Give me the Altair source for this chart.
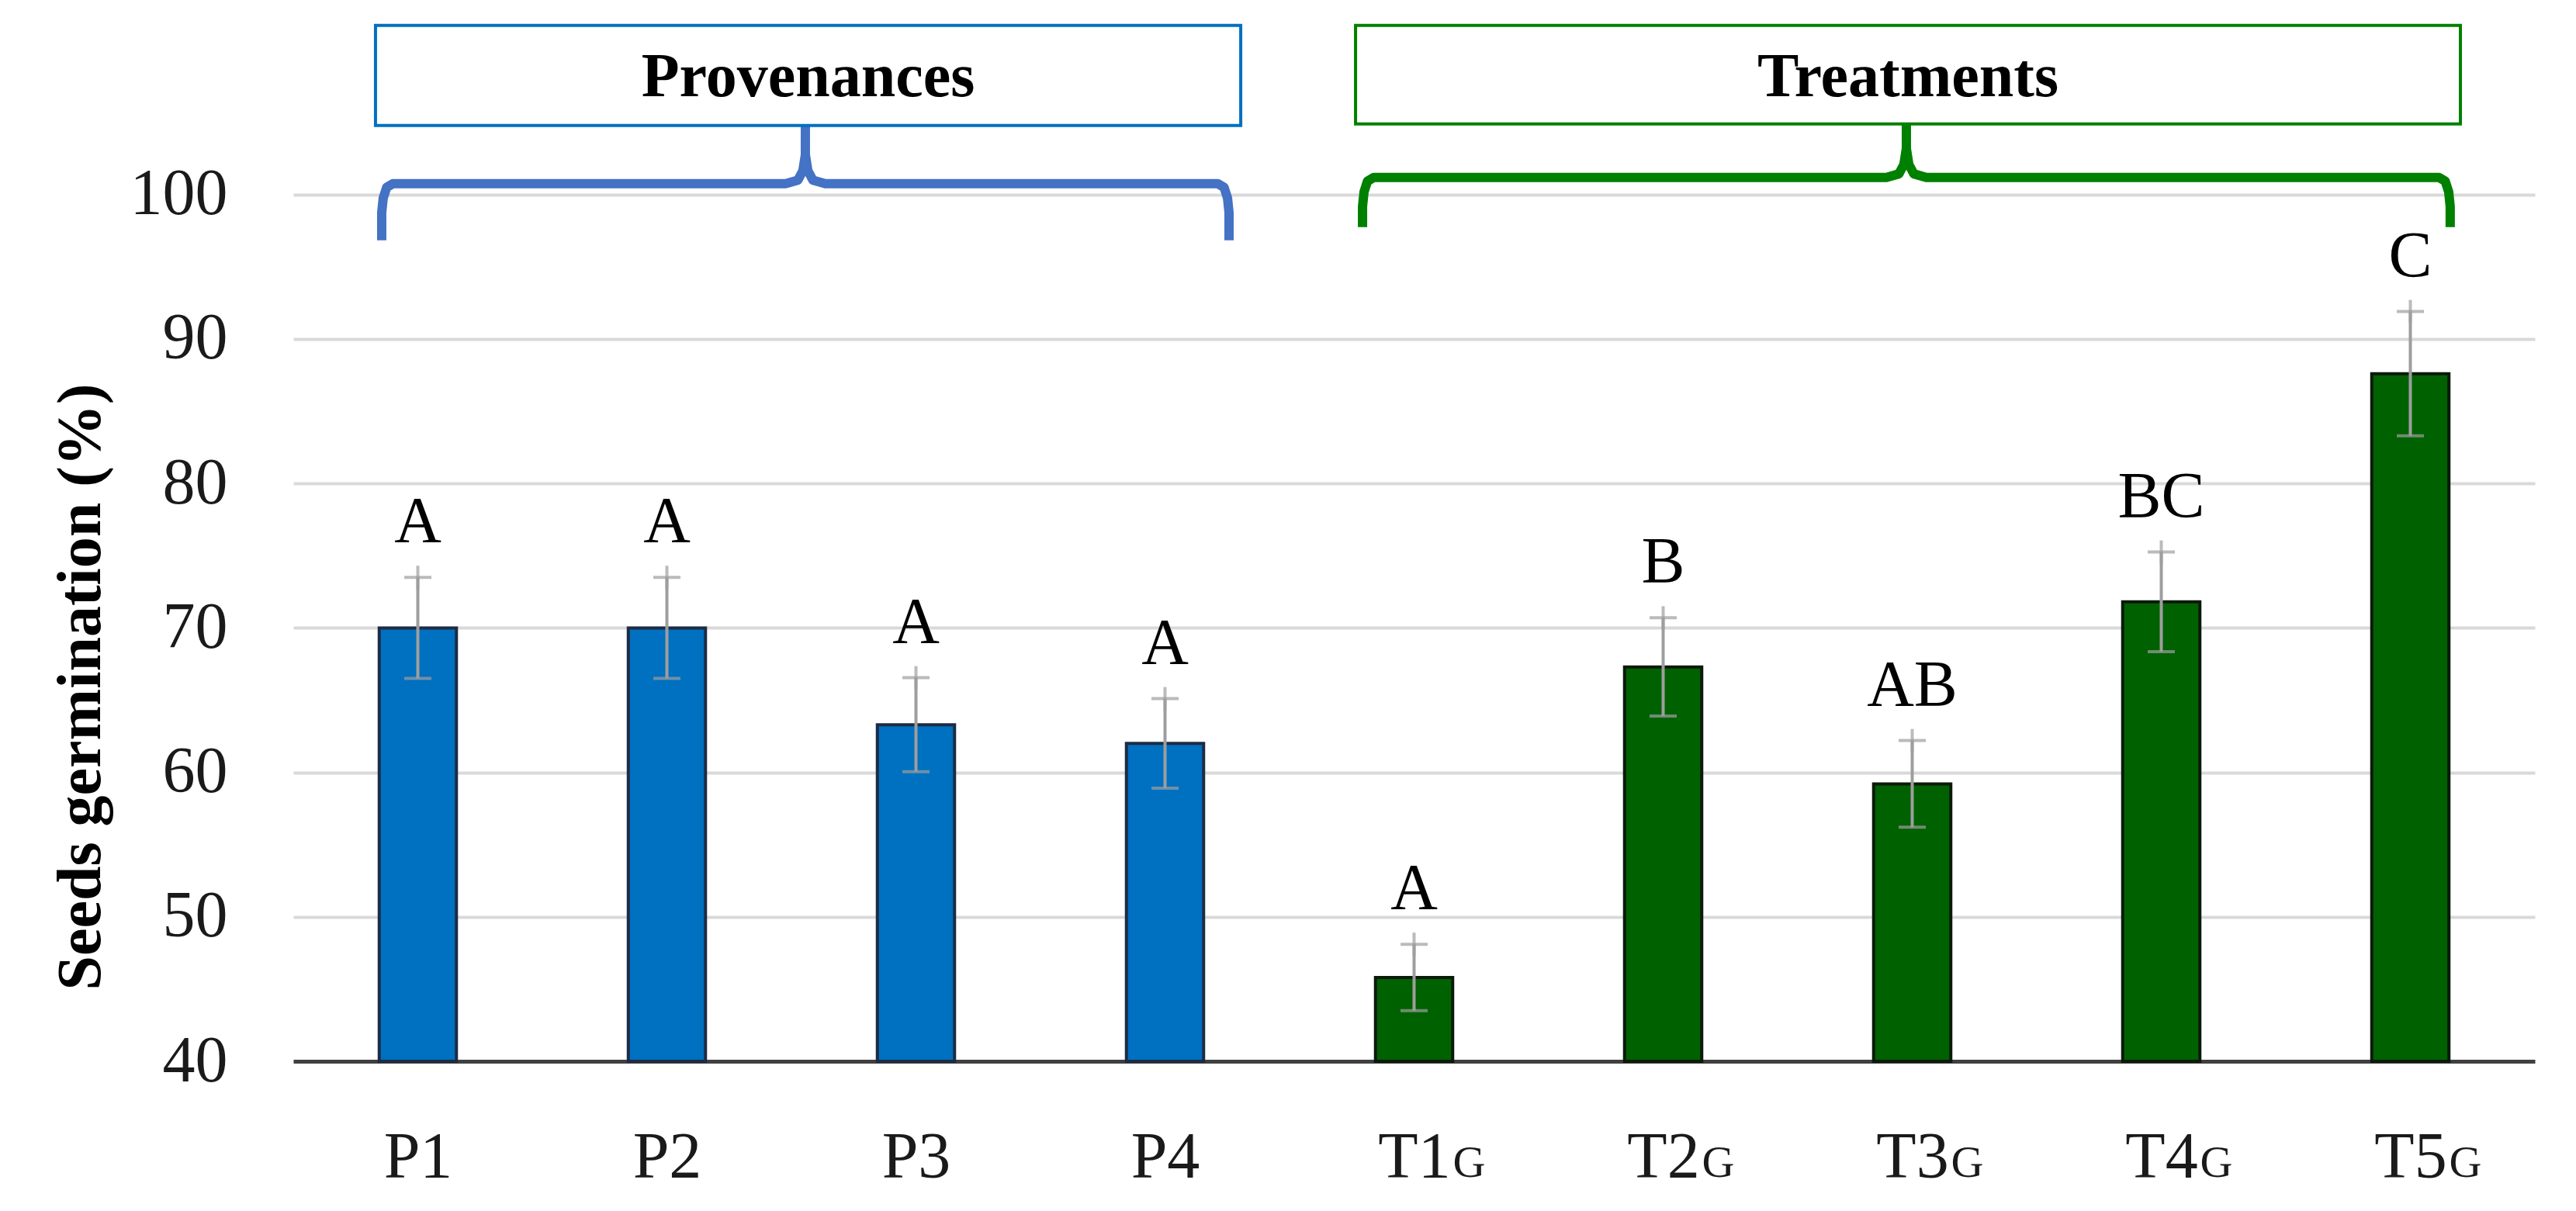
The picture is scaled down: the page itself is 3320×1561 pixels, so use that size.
import json
import altair as alt
import pandas as pd

# ---------------- data ----------------
categories = ["P1", "P2", "P3", "P4", "T1", "T2", "T3", "T4", "T5"]
suffixes = ["", "", "", "", "G", "G", "G", "G", "G"]
groups = ["Provenances"] * 4 + ["Treatments"] * 5
germination = [70.0, 70.0, 63.3, 62.0, 45.8, 67.3, 59.2, 71.8, 87.6]
std_error = [3.5, 3.5, 3.25, 3.1, 2.3, 3.4, 3.0, 3.45, 4.3]
letters = ["A", "A", "A", "A", "A", "B", "AB", "BC", "C"]

# group annotations (in category-index units on x, % on y)
group_names = ["Provenances", "Treatments"]
brace_x0 = [0.355, 4.293]
brace_x1 = [3.757, 8.660]
brace_y_line = [100.75, 101.18]
brace_y_end = [96.83, 97.74]
box_x0 = [0.330, 4.265]
box_x1 = [3.804, 8.701]
box_y0 = [104.78, 104.89]
box_y1 = [111.71, 111.71]
box_text_y = [106.82, 106.82]

# ---------------- styles ----------------
bar_fill = {"Provenances": "#0070C0", "Treatments": "#006100"}
bar_stroke = {"Provenances": "#1E2B45", "Treatments": "#0B1A0B"}
brace_color = {"Provenances": "#4472C4", "Treatments": "#008000"}
box_color = {"Provenances": "#0070C0", "Treatments": "#008000"}
SERIF = "Liberation Serif"
Y_MIN, Y_MAX = 40, 112.5
HALF_BAR = 0.155

idx = list(range(len(categories)))
bars = pd.DataFrame({
    "idx": idx,
    "cat": categories,
    "suffix": suffixes,
    "group": groups,
    "value": germination,
    "err": std_error,
    "letter": letters,
})
bars["fill"] = bars["group"].map(bar_fill)
bars["stroke"] = bars["group"].map(bar_stroke)

# brace outlines built from the group spans
rows = []
for g, x0, x1, yl, ye, yt in zip(group_names, brace_x0, brace_x1, brace_y_line, brace_y_end, box_y0):
    c = (x0 + x1) / 2
    pts = [
        (x0, ye), (x0, yl - 2.0), (x0 + 0.006, yl - 1.0), (x0 + 0.02, yl - 0.25), (x0 + 0.045, yl),
        (c - 0.08, yl), (c - 0.03, yl + 0.25), (c - 0.01, yl + 0.9), (c, yl + 2.0),
    ]
    path = pts + [(c, yt)] + [(2 * c - px, py) for px, py in reversed(pts)]
    for k, (px, py) in enumerate(path):
        rows.append({"group": g, "ord": k, "bx": px, "by": py, "col": brace_color[g]})
braces = pd.DataFrame(rows)

boxes = pd.DataFrame({
    "group": group_names,
    "x0": box_x0, "x1": box_x1, "y0": box_y0, "y1": box_y1, "ty": box_text_y,
})
boxes["cx"] = (boxes["x0"] + boxes["x1"]) / 2
boxes["col"] = boxes["group"].map(box_color)

# ---------------- scales & axes ----------------
xs = alt.Scale(domain=[0, len(categories)], nice=False, zero=False)
ys = alt.Scale(domain=[Y_MIN, Y_MAX], nice=False, zero=False)

x_axis = alt.Axis(
    values=[i + 0.5 for i in idx],
    labelExpr=f"{json.dumps(categories)}[floor(datum.value)]",
    title=None, grid=False, ticks=False, tickSize=0,
    domainColor="#404040", domainWidth=5,
    labelFont=SERIF, labelFontSize=84, labelColor="#1a1a1a",
    labelPadding=149, labelBaseline="alphabetic",
    labelOverlap=False, labelFlush=False,
)
y_axis = alt.Axis(
    values=[40, 50, 60, 70, 80, 90, 100],
    title="Seeds germination (%)",
    grid=True, gridColor="#D9D9D9", gridWidth=4,
    domain=False, ticks=False, tickSize=0,
    labelFont=SERIF, labelFontSize=84, labelColor="#1a1a1a", labelPadding=85,
    titleFont=SERIF, titleFontSize=80, titleFontWeight="bold", titleColor="#000000",
    titleAngle=270, titleX=-250, titleY=867, titleAlign="center", titleBaseline="alphabetic",
)


def X(field):
    return alt.X(field, scale=xs, axis=x_axis)


def Y(field):
    return alt.Y(field, scale=ys, axis=y_axis)


base = alt.Chart(bars).transform_calculate(
    xc="datum.idx + 0.5",
    xl=f"datum.idx + 0.5 - {HALF_BAR}",
    xr=f"datum.idx + 0.5 + {HALF_BAR}",
    lo="datum.value - datum.err",
    hi="datum.value + datum.err",
    base=f"{Y_MIN}",
)

bar_layer = base.mark_bar(strokeWidth=4).encode(
    x=X("xl:Q"),
    x2="xr:Q",
    y=Y("value:Q"),
    y2="base:Q",
    fill=alt.Fill("fill:N", scale=None),
    stroke=alt.Stroke("stroke:N", scale=None),
)

err_rule = base.mark_rule(color="#9E9E9E", strokeWidth=4).encode(
    x=X("xc:Q"), y=Y("lo:Q"), y2="hi:Q",
)
cap_hi = base.mark_tick(color="#9E9E9E", orient="horizontal", size=35, thickness=4).encode(
    x=X("xc:Q"), y=Y("hi:Q"),
)
cap_lo = base.mark_tick(color="#9E9E9E", orient="horizontal", size=35, thickness=4).encode(
    x=X("xc:Q"), y=Y("lo:Q"),
)
cap_ext = base.mark_tick(color="#9E9E9E", orient="vertical", size=30, thickness=4).encode(
    x=X("xc:Q"), y=Y("hi:Q"),
)

letter_layer = base.mark_text(
    font=SERIF, fontSize=84, color="#000000", baseline="alphabetic", align="center", dy=-45
).encode(
    x=X("xc:Q"), y=Y("hi:Q"), text="letter:N",
)

suffix_layer = base.mark_text(
    font=SERIF, fontSize=58, color="#1a1a1a", baseline="alphabetic", align="left", dx=50, dy=149
).encode(
    x=X("xc:Q"), y=Y("base:Q"), text="suffix:N",
)

brace_layer = alt.Chart(braces).mark_line(strokeWidth=12, strokeJoin="round", strokeCap="butt").encode(
    x=X("bx:Q"),
    y=Y("by:Q"),
    detail="group:N",
    order="ord:Q",
    color=alt.Color("col:N", scale=None),
)

box_layer = alt.Chart(boxes).mark_rect(fill="#ffffff", strokeWidth=4).encode(
    x=X("x0:Q"),
    x2="x1:Q",
    y=Y("y0:Q"),
    y2="y1:Q",
    stroke=alt.Stroke("col:N", scale=None),
)

box_text = alt.Chart(boxes).mark_text(
    font=SERIF, fontSize=80, fontWeight="bold", color="#000000", baseline="alphabetic", align="center"
).encode(
    x=X("cx:Q"), y=Y("ty:Q"), text="group:N",
)

chart = alt.layer(
    bar_layer, err_rule, cap_hi, cap_lo, cap_ext, letter_layer, suffix_layer,
    brace_layer, box_layer, box_text,
).properties(
    width=2889,
    height=1350,
    autosize=alt.AutoSizeParams(type="none"),
    padding={"left": 370, "top": 10, "right": 45, "bottom": 185},
    background="#ffffff",
).configure_view(strokeWidth=0)

chart.save("out.html", embed_options={"renderer": "svg", "actions": False})
